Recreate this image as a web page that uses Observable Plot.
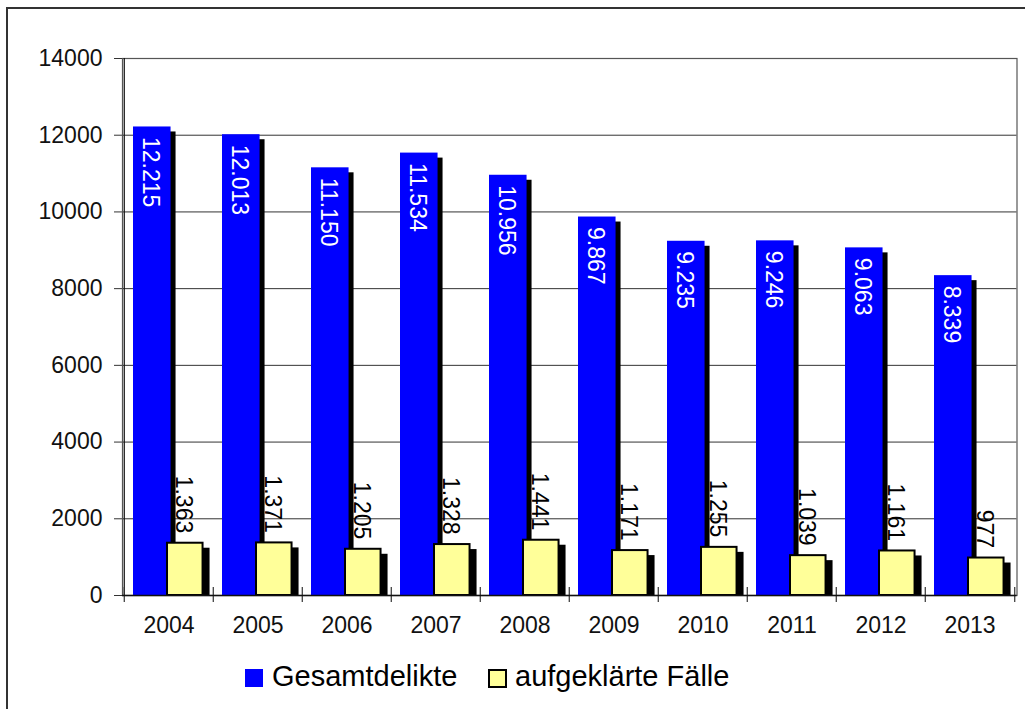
<!DOCTYPE html>
<html>
<head>
<meta charset="utf-8">
<script src="https://cdn.jsdelivr.net/npm/d3@7"></script>
<script src="https://cdn.jsdelivr.net/npm/@observablehq/plot@0.6"></script>
<style>
  html, body { margin: 0; padding: 0; background: #fff; }
  #page { position: relative; width: 1025px; height: 709px; overflow: hidden; font-family: "Liberation Sans", Arial, sans-serif; }
  #border { position: absolute; left: 6px; top: 7px; width: 1100px; height: 800px; border: 2px solid #333; }
  #chart { position: absolute; left: 0; top: 0; }
  #legend { position: absolute; left: 245px; top: 656px; height: 40px; font-size: 29px; color: #000; white-space: nowrap; }
  .sw { position: absolute; top: 13px; }
  .lbl { position: absolute; top: 0; line-height: 40px; }
</style>
</head>
<body>
<div id="page">
  <div id="border"></div>
  <div id="chart"></div>
  <div id="legend"></div>
</div>
<script>
const years = ["2004","2005","2006","2007","2008","2009","2010","2011","2012","2013"];
const gesamtdelikte = [12215, 12013, 11150, 11534, 10956, 9867, 9235, 9246, 9063, 8339];
const aufgeklaert = [1363, 1371, 1205, 1328, 1441, 1171, 1255, 1039, 1161, 977];
const seriesNames = ["Gesamtdelikte", "aufgeklärte Fälle"];
const seriesColors = ["#0000ff", "#ffff99"];
const yTicks = [0, 2000, 4000, 6000, 8000, 10000, 12000, 14000];

const W = 1025, H = 650;
const mL = 122, mR = 8.5, mT = 58, mB = 55;
const bw = (W - mL - mR) / years.length;

const deFmt = d3.formatLocale({decimal: ",", thousands: ".", grouping: [3], currency: ["", "€"]}).format(",d");

const rowsG = years.map((y, i) => ({year: y, value: gesamtdelikte[i]}));
const rowsA = years.map((y, i) => ({year: y, value: aufgeklaert[i]}));

const font = "Liberation Sans, Arial, sans-serif";

const plot = Plot.plot({
  width: W, height: H,
  marginLeft: mL, marginRight: mR, marginTop: mT, marginBottom: mB,
  style: {fontFamily: font, background: "transparent", overflow: "visible"},
  x: {type: "band", domain: years, padding: 0, label: null},
  y: {domain: [0, 14000], label: null},
  marks: [
    Plot.gridY(yTicks, {stroke: "#333", strokeOpacity: 1, strokeWidth: 1}),
    Plot.frame({stroke: "#555", strokeWidth: 1.2}),
    Plot.ruleX([years[0]], {x: d => d, stroke: "#111", strokeWidth: 1.2, dx: -bw / 2}),
    // blue shadow + bars
    Plot.barY(rowsG, {x: "year", y: "value", fill: "#000", insetLeft: 9, insetRight: bw - 47, insetTop: 5, dx: 5}),
    Plot.barY(rowsG, {x: "year", y: "value", fill: seriesColors[0], insetLeft: 9, insetRight: bw - 47}),
    // yellow shadow + bars
    Plot.barY(rowsA, {x: "year", y: "value", fill: "#000", insetLeft: 42, insetRight: bw - 80, insetTop: 5, dx: 6}),
    Plot.barY(rowsA, {x: "year", y: "value", fill: seriesColors[1], stroke: "#000", strokeWidth: 2, insetLeft: 43, insetRight: bw - 79}),
    // x-axis tick marks at band boundaries
    Plot.ruleX(years, {x: d => d, y1: 0, y2: 0, insetTop: -8, insetBottom: -7, dx: -bw / 2, stroke: "#333", strokeWidth: 1.2}),
    Plot.ruleX([years[years.length - 1]], {x: d => d, y1: 0, y2: 0, insetTop: -8, insetBottom: -7, dx: bw / 2, stroke: "#333", strokeWidth: 1.2}),
    Plot.ruleY([0], {stroke: "#111", strokeWidth: 1.5}),
    // labels
    Plot.text(rowsG, {x: "year", y: "value", text: d => deFmt(d.value), rotate: 90, textAnchor: "start", fill: "#fff", fontSize: 23, dx: -19, dy: 10}),
    Plot.text(rowsA, {x: "year", y: "value", text: d => deFmt(d.value), rotate: 90, textAnchor: "end", fill: "#000", fontSize: 23, dx: 14, dy: -10}),
    Plot.axisY(yTicks, {tickSize: 8, tickPadding: 12, tickFormat: d => String(d), fontSize: 23, stroke: "#333", color: "#111", label: null}),
    Plot.axisX({tickSize: 0, tickPadding: 21, fontSize: 23, color: "#111", label: null})
  ]
});
document.getElementById("chart").appendChild(plot);

// legend
const legend = document.getElementById("legend");
const items = [
  {name: seriesNames[0], color: seriesColors[0], left: 0, sw: 18, border: "none", textLeft: 27},
  {name: seriesNames[1], color: seriesColors[1], left: 243, sw: 15, border: "2px solid #000", textLeft: 270}
];
items.forEach(it => {
  const s = document.createElement("div");
  s.className = "sw";
  s.style.left = it.left + "px";
  s.style.width = it.sw + "px";
  s.style.height = it.sw + "px";
  s.style.background = it.color;
  s.style.border = it.border;
  legend.appendChild(s);
  const t = document.createElement("div");
  t.className = "lbl";
  t.style.left = it.textLeft + "px";
  t.textContent = it.name;
  legend.appendChild(t);
});
</script>
</body>
</html>
